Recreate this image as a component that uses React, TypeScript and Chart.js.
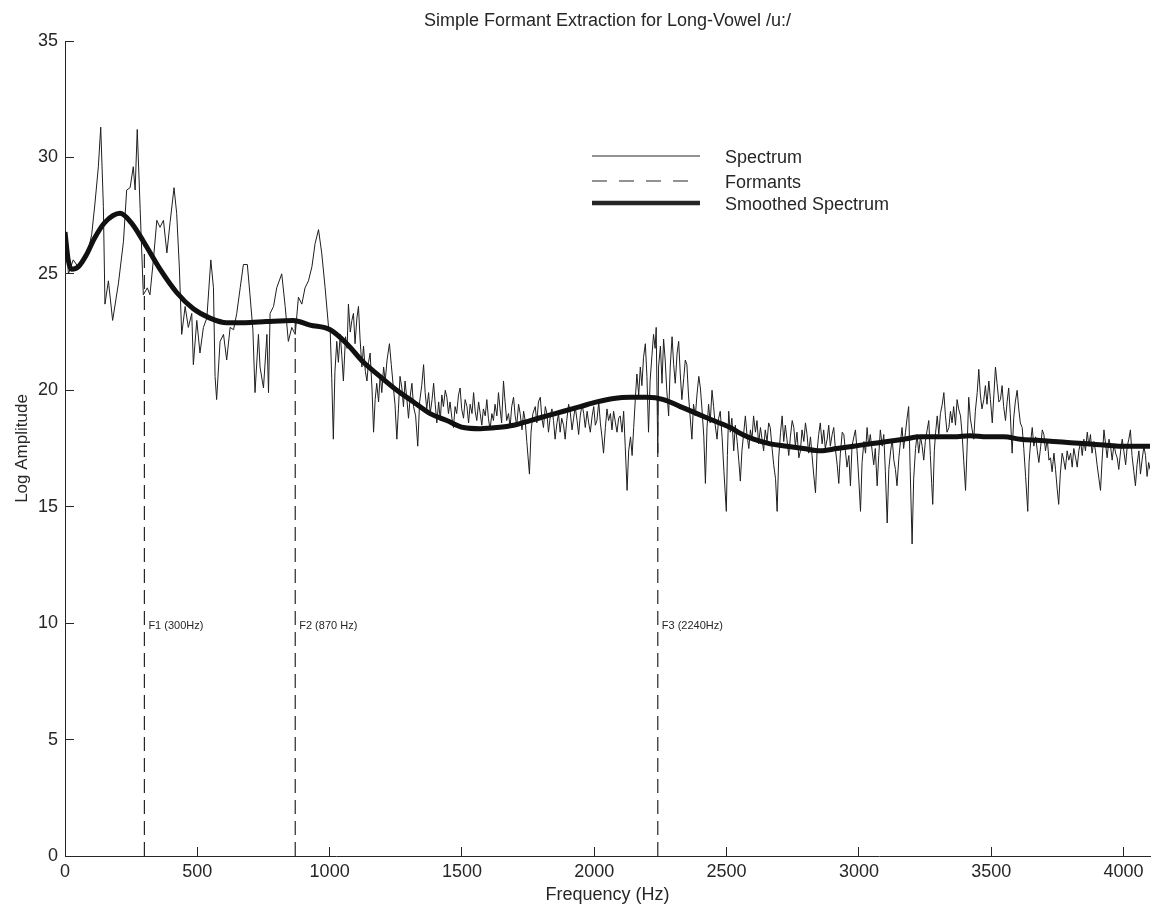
import { useEffect, useRef } from "react";
import { Chart, registerables } from "chart.js";

Chart.register(...registerables);

// Raw log-magnitude spectrum, [frequency Hz, log amplitude]
const spectrumLow: [number, number][] = [
  [0, 26.9], [13, 25.0], [31, 25.6], [50, 25.3], [69, 25.7], [88, 26.0], [101, 26.7], [113, 28.0], [126, 29.6], [135, 31.3],
  [145, 27.9], [151, 23.7], [164, 24.7], [180, 23.0], [202, 24.6], [221, 26.4], [233, 28.6], [246, 28.7], [258, 29.6], [265, 28.6],
  [273, 31.2], [284, 27.8], [296, 24.1], [311, 24.4], [321, 24.1], [334, 25.6], [347, 27.3], [359, 27.0], [372, 27.3], [385, 25.9],
  [397, 27.2], [412, 28.7], [422, 27.6], [432, 25.3], [441, 22.4], [454, 23.6], [466, 22.7], [479, 23.3], [485, 21.1], [498, 23.0],
  [510, 21.6], [523, 22.7], [536, 23.1], [551, 25.6], [561, 24.4], [567, 20.6], [573, 19.6], [586, 22.1], [599, 22.4], [611, 21.3],
  [624, 22.7], [637, 22.6], [649, 23.3], [662, 24.4], [674, 25.4], [689, 25.4], [699, 24.1], [710, 22.6], [718, 19.9], [731, 22.4],
  [737, 21.0], [750, 20.1], [763, 22.4], [769, 19.9], [775, 23.3], [788, 23.6], [800, 24.4], [819, 25.0], [832, 23.6], [844, 22.1],
  [857, 22.7], [870, 22.4], [882, 24.0], [895, 23.7], [907, 24.4], [920, 24.7], [933, 25.3], [945, 26.3], [958, 26.9], [970, 25.9],
  [983, 24.4], [996, 22.7],
];
const spectrumMid: [number, number][] = [
  [1002, 22.6], [1008, 20.5], [1014, 17.9], [1020, 20.8], [1027, 22.1], [1033, 21.2], [1040, 22.4], [1046, 21.5], [1052, 20.4], [1060, 22.3],
  [1066, 21.8], [1071, 23.7], [1078, 22.5], [1084, 23.0], [1090, 23.3], [1096, 22.0], [1103, 23.1], [1109, 23.6], [1115, 22.2], [1122, 21.0],
  [1128, 21.9], [1135, 20.8], [1141, 20.4], [1147, 21.2], [1153, 21.6], [1160, 20.1], [1166, 18.2], [1172, 19.6], [1178, 20.3], [1185, 19.5],
  [1191, 20.7], [1197, 19.9], [1204, 21.0], [1210, 20.4], [1217, 21.3], [1226, 22.0], [1233, 21.1], [1241, 20.1], [1247, 19.4], [1254, 17.9],
  [1260, 19.2], [1266, 20.6], [1273, 20.1], [1279, 19.3], [1285, 20.4], [1292, 19.6], [1298, 18.8], [1305, 19.8], [1311, 20.3], [1317, 19.3],
  [1325, 18.9], [1333, 17.6], [1340, 19.5], [1348, 20.2], [1355, 21.1], [1361, 19.9], [1367, 19.2], [1374, 19.9], [1380, 19.0], [1387, 19.6],
  [1393, 20.3], [1399, 19.4], [1405, 18.6], [1412, 19.5], [1418, 18.7], [1424, 19.8], [1430, 19.3], [1437, 20.0], [1443, 19.7], [1449, 19.0],
  [1455, 19.5], [1462, 18.8], [1468, 18.4], [1474, 19.3], [1480, 19.0], [1487, 19.8], [1493, 20.1], [1499, 19.2], [1506, 18.8], [1512, 19.6],
  [1519, 19.3], [1525, 18.6], [1531, 19.4], [1538, 19.0], [1544, 19.9], [1550, 19.1], [1556, 18.7], [1563, 19.5], [1569, 19.0], [1575, 18.5],
  [1581, 19.2], [1588, 18.9], [1594, 19.6], [1600, 18.8], [1606, 18.3], [1613, 19.0], [1619, 18.7], [1625, 19.4], [1632, 18.9], [1638, 19.9],
  [1644, 19.2], [1650, 18.6], [1657, 20.4], [1663, 19.5], [1669, 18.7], [1676, 19.0], [1682, 18.4], [1688, 19.3], [1695, 19.7], [1701, 18.9],
  [1707, 18.5], [1714, 19.4], [1720, 19.0], [1727, 18.3], [1733, 19.1], [1739, 18.7], [1745, 17.8], [1755, 16.4], [1761, 18.2], [1768, 19.0],
  [1777, 19.3], [1783, 18.6], [1789, 19.5], [1796, 19.7], [1802, 18.8], [1808, 18.4], [1815, 19.3], [1821, 19.0], [1827, 18.2], [1834, 18.9],
  [1840, 19.2], [1846, 18.7], [1852, 17.9], [1859, 18.6], [1865, 19.0], [1871, 18.2], [1877, 18.8], [1884, 18.5], [1890, 17.9], [1896, 18.7],
  [1903, 19.4], [1909, 19.1], [1916, 18.3], [1922, 18.8], [1928, 19.3], [1935, 18.7], [1941, 18.1], [1947, 18.9], [1954, 19.4], [1960, 19.0],
  [1966, 18.4], [1973, 19.1], [1979, 18.6], [1985, 18.2], [1992, 18.9], [1998, 19.3], [2004, 18.5], [2010, 18.7], [2017, 19.5], [2023, 18.6],
  [2029, 18.0], [2035, 17.3], [2042, 18.4], [2048, 19.2], [2054, 18.7], [2061, 19.0], [2067, 18.3], [2073, 19.1], [2080, 18.6], [2086, 18.2],
  [2092, 18.8], [2098, 18.9], [2105, 18.2], [2111, 19.1], [2117, 17.6], [2124, 15.7],
];
const spectrumHigh: [number, number][] = [
  [2130, 17.4], [2137, 18.0], [2143, 17.2], [2149, 18.4], [2155, 19.6], [2161, 20.7], [2168, 19.8], [2174, 21.0], [2180, 20.2], [2186, 21.4],
  [2193, 22.0], [2199, 20.6], [2205, 18.2], [2211, 20.4], [2218, 21.5], [2224, 22.4], [2230, 21.8], [2234, 22.7], [2240, 17.3], [2243, 21.0],
  [2250, 21.9], [2256, 20.3], [2262, 22.2], [2268, 21.3], [2274, 20.0], [2281, 18.9], [2287, 21.0], [2294, 22.3], [2300, 21.1], [2306, 20.3],
  [2313, 21.6], [2319, 22.1], [2325, 20.7], [2331, 19.6], [2338, 20.5], [2344, 21.3], [2350, 21.1], [2356, 19.8], [2362, 18.9], [2369, 17.9],
  [2375, 19.4], [2382, 18.9], [2388, 19.8], [2395, 20.6], [2401, 20.1], [2407, 19.2], [2414, 18.0], [2420, 16.0], [2426, 18.4], [2432, 19.4],
  [2438, 18.6], [2445, 20.0], [2451, 19.3], [2457, 18.5], [2464, 17.9], [2470, 18.8], [2476, 19.1], [2483, 18.0], [2490, 16.5], [2499, 14.8],
  [2503, 17.2], [2508, 19.1], [2514, 18.2], [2520, 18.8], [2527, 17.4], [2533, 18.5], [2540, 17.8], [2546, 17.0], [2552, 16.1], [2558, 17.4],
  [2565, 18.2], [2571, 18.9], [2577, 18.1], [2584, 17.5], [2590, 18.3], [2596, 17.9], [2602, 18.9], [2609, 18.2], [2615, 18.7], [2621, 17.7],
  [2628, 18.4], [2634, 17.9], [2640, 17.4], [2646, 18.3], [2653, 17.8], [2659, 18.6], [2665, 18.4], [2672, 17.5], [2678, 16.8], [2685, 16.2],
  [2691, 14.8], [2697, 17.1], [2704, 18.2], [2710, 18.9], [2716, 17.8], [2722, 18.5], [2728, 17.9], [2735, 17.2], [2741, 18.0], [2748, 18.7],
  [2754, 18.4], [2760, 17.6], [2766, 18.2], [2773, 17.1], [2779, 17.4], [2785, 18.3], [2792, 17.8], [2798, 18.6], [2804, 18.1], [2810, 17.3],
  [2817, 18.0], [2823, 17.2], [2829, 16.4], [2836, 15.6], [2842, 17.4], [2848, 18.1], [2854, 18.6], [2861, 17.7], [2867, 18.3], [2873, 17.5],
  [2880, 17.9], [2886, 18.5], [2892, 17.6], [2899, 18.1], [2905, 18.4], [2911, 17.5], [2918, 16.8], [2924, 16.0], [2930, 17.3], [2937, 18.2],
  [2943, 18.1], [2949, 17.4], [2955, 16.7], [2962, 17.2], [2968, 15.9], [2974, 17.6], [2981, 18.0], [2987, 18.3], [2993, 17.4], [3000, 16.1],
  [3006, 14.8], [3012, 16.9], [3019, 17.8], [3025, 17.3], [3031, 18.4], [3037, 17.6], [3043, 18.1], [3050, 17.4], [3056, 16.8], [3062, 17.5],
  [3069, 15.9], [3075, 17.2], [3081, 18.3], [3088, 17.6], [3094, 18.1], [3100, 16.5], [3107, 14.3], [3113, 16.6], [3120, 17.4], [3126, 17.9],
  [3132, 17.0], [3138, 16.6], [3144, 15.9], [3151, 17.1], [3157, 17.8], [3163, 18.4], [3169, 17.5], [3176, 18.2], [3182, 18.8], [3188, 19.3],
  [3194, 16.5], [3201, 13.4], [3207, 16.2], [3214, 17.5], [3220, 18.1], [3226, 17.3], [3233, 18.0], [3239, 17.6], [3245, 17.0], [3251, 17.8],
  [3258, 18.3], [3264, 18.7], [3270, 17.2], [3275, 16.0], [3279, 15.1], [3285, 17.4], [3290, 18.2], [3296, 18.9], [3302, 18.1], [3308, 19.0],
  [3315, 19.4], [3321, 19.9], [3327, 18.9], [3333, 18.2], [3340, 18.4], [3346, 19.1], [3352, 18.6], [3358, 19.3], [3365, 18.5], [3371, 19.6],
  [3377, 19.2], [3384, 18.9], [3390, 18.1], [3396, 17.0], [3403, 15.7], [3409, 17.6], [3415, 19.7], [3421, 18.8], [3428, 18.3], [3434, 17.9],
  [3440, 19.1], [3447, 19.9], [3453, 20.9], [3459, 19.8], [3465, 19.2], [3472, 19.6], [3478, 20.2], [3484, 19.4], [3491, 20.4], [3497, 19.6],
  [3504, 18.6], [3510, 19.8], [3516, 21.0], [3522, 20.3], [3529, 19.5], [3535, 19.6], [3541, 20.2], [3547, 19.3], [3554, 18.7], [3560, 19.5],
  [3566, 20.1], [3572, 19.0], [3579, 17.3], [3585, 18.8], [3591, 19.5], [3598, 20.0], [3604, 19.2], [3610, 18.6], [3617, 18.4], [3623, 17.5],
  [3630, 16.3], [3638, 14.8], [3643, 16.9], [3649, 17.8], [3655, 18.4], [3661, 17.6], [3668, 18.0], [3674, 17.4], [3680, 16.9], [3687, 17.6],
  [3693, 18.3], [3699, 18.1], [3705, 17.4], [3712, 17.9], [3718, 17.0], [3724, 17.1], [3730, 16.5], [3737, 17.3], [3743, 16.6], [3749, 15.8],
  [3755, 15.1], [3761, 16.4], [3768, 17.3], [3774, 17.0], [3780, 16.6], [3787, 17.4], [3793, 17.0], [3800, 17.3], [3806, 16.7], [3812, 17.5],
  [3819, 17.1], [3825, 16.7], [3831, 17.4], [3838, 17.8], [3844, 17.2], [3850, 17.9], [3856, 17.4], [3863, 18.2], [3869, 17.6], [3875, 18.1],
  [3881, 17.3], [3888, 17.8], [3894, 17.4], [3900, 16.8], [3907, 16.2], [3913, 15.7], [3919, 17.0], [3926, 18.3], [3932, 17.7], [3938, 17.1],
  [3945, 17.9], [3951, 17.6], [3957, 17.0], [3964, 17.7], [3970, 17.3], [3976, 17.1], [3982, 16.6], [3989, 17.4], [3995, 17.9], [4001, 17.4],
  [4008, 16.8], [4014, 17.6], [4020, 17.9], [4026, 18.3], [4032, 17.2], [4039, 16.5], [4045, 15.9], [4051, 16.8], [4058, 17.4], [4064, 16.4],
  [4070, 17.0], [4077, 17.6], [4083, 17.2], [4089, 16.3], [4095, 16.9], [4100, 16.6],
];

// Cepstrally smoothed envelope
const smoothFreq = [
  0, 12, 25, 50, 80, 110, 150, 208, 250, 296, 359, 422, 485, 548, 611, 680, 760, 863, 926, 1002,
  1065, 1128, 1190, 1254, 1317, 1380, 1443, 1506, 1570, 1632, 1695, 1758, 1820, 1884, 1947, 2010, 2073, 2136, 2200, 2262,
  2325, 2388, 2450, 2514, 2560, 2602, 2665, 2728, 2790, 2854, 2917, 2980, 3043, 3107, 3170, 3233, 3296, 3358, 3420, 3484,
  3547, 3610, 3673, 3736, 3800, 3863, 3926, 3989, 4051, 4100,
];
const smoothAmp = [
  26.8, 25.6, 25.2, 25.3, 25.8, 26.5, 27.2, 27.6, 27.2, 26.4, 25.2, 24.2, 23.5, 23.1, 22.9, 22.9, 22.95, 23.0, 22.8, 22.6,
  22.0, 21.2, 20.6, 20.0, 19.5, 19.0, 18.7, 18.4, 18.35, 18.4, 18.5, 18.7, 18.9, 19.1, 19.3, 19.5, 19.65, 19.7, 19.7, 19.6,
  19.3, 19.0, 18.7, 18.4, 18.1, 17.9, 17.7, 17.6, 17.5, 17.4, 17.5, 17.6, 17.7, 17.8, 17.9, 18.0, 18.0, 18.0, 18.05, 18.0,
  18.0, 17.9, 17.85, 17.8, 17.75, 17.7, 17.65, 17.6, 17.6, 17.6,
];

// Formant estimates: frequency, envelope level at that frequency, label
const formantFreq = [300, 870, 2240];
const formantLevel = [26.4, 23.0, 19.65];
const formantLabels = ["F1 (300Hz)", "F2 (870 Hz)", "F3 (2240Hz)"];
const formantLabelLevel = 9.9;

const xTickValues = [0, 500, 1000, 1500, 2000, 2500, 3000, 3500, 4000];
const yTickValues = [0, 5, 10, 15, 20, 25, 30, 35];

const legendLabels = ["Spectrum", "Formants", "Smoothed Spectrum"];
const chartTitle = "Simple Formant Extraction for Long-Vowel /u:/";
const xAxisTitle = "Frequency (Hz)";
const yAxisTitle = "Log Amplitude";

const INK = "#262626";
const FONT = '"Liberation Sans", Arial, Helvetica, sans-serif';

const overlayPlugin = {
  id: "overlay",
  afterDraw(chart: any) {
    const { ctx, chartArea, scales } = chart;
    const xs = scales.x;
    const ys = scales.y;
    ctx.save();
    ctx.fillStyle = INK;
    ctx.strokeStyle = INK;

    // title
    ctx.font = `18px ${FONT}`;
    ctx.textAlign = "center";
    ctx.textBaseline = "middle";
    ctx.fillText(chartTitle, (chartArea.left + chartArea.right) / 2, 21);

    // formant annotations
    ctx.font = `11px ${FONT}`;
    ctx.textAlign = "left";
    formantFreq.forEach((f, i) => {
      ctx.fillText(formantLabels[i], xs.getPixelForValue(f) + 4, ys.getPixelForValue(formantLabelLevel));
    });

    // legend
    const lx0 = chartArea.left + 527;
    const lx1 = lx0 + 108;
    const rows = [chartArea.top + 115, chartArea.top + 140, chartArea.top + 162];
    const widths = [1, 1.2, 4.5];
    const dashes = [[], [15, 12], []];
    ctx.font = `18px ${FONT}`;
    ctx.textAlign = "left";
    legendLabels.forEach((label, i) => {
      ctx.beginPath();
      ctx.lineWidth = widths[i];
      ctx.setLineDash(dashes[i]);
      ctx.moveTo(lx0, rows[i]);
      ctx.lineTo(lx1, rows[i]);
      ctx.stroke();
      ctx.setLineDash([]);
      ctx.fillText(label, lx1 + 25, rows[i] + 2);
    });
    ctx.restore();
  },
};

export default function App() {
  const canvasRef = useRef<HTMLCanvasElement | null>(null);

  useEffect(() => {
    if (!canvasRef.current) return;
    const spectrum = [...spectrumLow, ...spectrumMid, ...spectrumHigh].map(([x, y]) => ({ x, y }));
    const smooth = smoothFreq.map((x, i) => ({ x, y: smoothAmp[i] }));

    const formantSets = formantFreq.map((f, i) => ({
      label: legendLabels[1],
      data: [
        { x: f, y: 0 },
        { x: f, y: formantLevel[i] },
      ],
      borderColor: INK,
      borderWidth: 1.2,
      borderDash: [14, 7],
      pointRadius: 0,
      tension: 0,
    }));

    const chart = new Chart(canvasRef.current, {
      type: "line",
      data: {
        datasets: [
          {
            label: legendLabels[2],
            data: smooth,
            borderColor: "#111",
            borderWidth: 5,
            pointRadius: 0,
            cubicInterpolationMode: "monotone",
          },
          ...formantSets,
          {
            label: legendLabels[0],
            data: spectrum,
            borderColor: "#1e1e1e",
            borderWidth: 1,
            pointRadius: 0,
            tension: 0,
          },
        ],
      },
      options: {
        animation: false,
        responsive: false,
        events: [],
        layout: { padding: { left: 8, top: 41, right: 2, bottom: 0 } },
        plugins: {
          legend: { display: false },
          tooltip: { enabled: false },
          title: { display: false },
        },
        scales: {
          x: {
            type: "linear",
            min: 0,
            max: 4100,
            afterBuildTicks(scale: any) {
              scale.ticks = xTickValues.map((value) => ({ value }));
            },
            ticks: {
              autoSkip: false,
              maxRotation: 0,
              color: INK,
              font: { family: FONT, size: 18 },
              padding: 14,
              callback: (v: any) => String(v),
            },
            grid: { drawOnChartArea: false, drawTicks: true, tickLength: -9, color: INK },
            border: { display: true, color: INK, width: 1 },
            title: {
              display: true,
              text: xAxisTitle,
              color: INK,
              font: { family: FONT, size: 18 },
              padding: { top: 0, bottom: 5 },
            },
            afterFit(scale: any) {
              scale.height = 55;
              scale.paddingLeft = 0;
              scale.paddingRight = 0;
            },
          },
          y: {
            type: "linear",
            min: 0,
            max: 35,
            afterBuildTicks(scale: any) {
              scale.ticks = yTickValues.map((value) => ({ value }));
            },
            ticks: {
              color: INK,
              font: { family: FONT, size: 18 },
              padding: 16,
              callback: (v: any) => String(v),
            },
            grid: { drawOnChartArea: false, drawTicks: true, tickLength: -9, color: INK },
            border: { display: true, color: INK, width: 1 },
            title: {
              display: true,
              text: yAxisTitle,
              color: INK,
              font: { family: FONT, size: 17 },
              padding: { top: 4, bottom: 0 },
            },
            afterFit(scale: any) {
              scale.width = 57;
            },
          },
        },
      },
      plugins: [overlayPlugin],
    } as any);

    return () => chart.destroy();
  }, []);

  return (
    <div style={{ position: "absolute", left: 0, top: 0, width: 1152, height: 911, background: "#fff" }}>
      <canvas ref={canvasRef} width={1152} height={911} style={{ display: "block" }} />
    </div>
  );
}
